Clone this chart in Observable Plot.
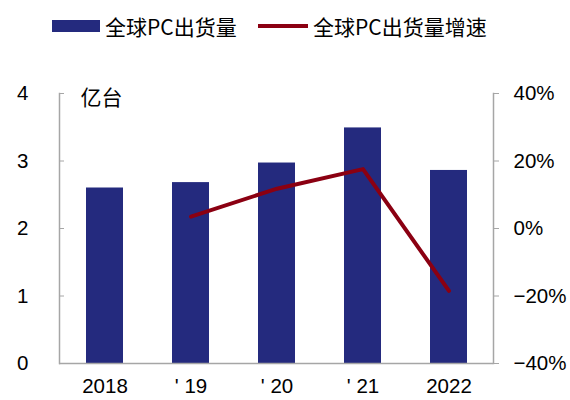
<!DOCTYPE html>
<html><head><meta charset="utf-8">
<script src="https://cdn.jsdelivr.net/npm/d3@7"></script>
<script src="https://cdn.jsdelivr.net/npm/@observablehq/plot@0.6"></script>
<style>
body{margin:0;background:#fff;width:570px;height:400px;overflow:hidden}
#legend{position:relative;height:55px;font-family:"Noto Sans CJK SC";font-size:21px;color:#000}
.item{position:absolute;top:0;height:52px;display:flex;align-items:center;white-space:nowrap}
.sw-bar{width:48px;height:12px;margin-right:5px}
.sw-line{width:50px;height:3.5px;margin-right:5px}
#chart svg{display:block}
</style></head>
<body>
<div id="legend"></div>
<div id="chart"></div>
<script>
const years = ["2018", "' 19", "' 20", "' 21", "2022"];
const shipments = [2.6, 2.68, 2.97, 3.49, 2.86];
const growth = [null, 3.5, 11.8, 17.6, -18.5];
const leftTicks = [0, 1, 2, 3, 4];
const rightTicks = [-40, -20, 0, 20, 40];
const unitLabel = "亿台";
const seriesNames = ["全球PC出货量", "全球PC出货量增速"];
const colors = ["#242a7e", "#8b0012"];

const toLeft = g => (g + 40) / 20;
const fromLeft = v => v * 20 - 40;
const fmtPct = p => (p < 0 ? "\u2212" + Math.abs(p) : String(p)) + "%";

const data = years.map((y, i) => ({year: y, v: shipments[i], g: growth[i]}));
const lineData = data.filter(d => d.g != null);

// legend
const legend = document.getElementById("legend");
const legPos = [52, 258];
seriesNames.forEach((name, i) => {
  const it = document.createElement("div");
  it.className = "item";
  it.style.left = legPos[i] + "px";
  const sw = document.createElement("div");
  sw.className = i === 0 ? "sw-bar" : "sw-line";
  sw.style.background = colors[i];
  const tx = document.createElement("span");
  tx.textContent = name;
  it.appendChild(sw); it.appendChild(tx);
  legend.appendChild(it);
});

const gray = "#a6a6a6";
const chart = Plot.plot({
  width: 570, height: 345,
  marginLeft: 59, marginRight: 77, marginTop: 38, marginBottom: 37,
  style: {fontFamily: "'Liberation Sans', Arial, sans-serif", fontSize: "20.5px", color: "#000", background: "#fff"},
  x: {domain: years, paddingInner: 0.57, paddingOuter: 0.285, label: null, axis: null},
  y: {domain: [0, 4], label: null, axis: null},
  marks: [
    Plot.barY(data, {x: "year", y: "v", fill: colors[0]}),
    Plot.ruleY([0], {stroke: gray, strokeWidth: 1.5}),
    Plot.frame({anchor: "left", stroke: gray, strokeWidth: 1.5}),
    Plot.frame({anchor: "right", stroke: gray, strokeWidth: 1.5}),
    Plot.line(lineData, {x: "year", y: d => toLeft(d.g), stroke: colors[1], strokeWidth: 4}),
    Plot.axisY(leftTicks, {anchor: "left", tickSize: 5, dx: 5, tickFormat: () => "", stroke: gray, label: null}),
    Plot.axisY(leftTicks, {anchor: "left", tickSize: 0, tickPadding: 31, fill: "#000", tickFormat: d => String(d), label: null}),
    Plot.axisY(rightTicks.map(toLeft), {anchor: "right", tickSize: 5, tickPadding: 15, stroke: gray, fill: "#000", tickFormat: d => fmtPct(fromLeft(d)), label: null}),
    Plot.axisX({tickSize: 0, tickPadding: 15, fill: "#000", label: null}),
    Plot.text([unitLabel], {frameAnchor: "top-left", dx: 21, dy: 4.5, lineAnchor: "middle", textAnchor: "start", fontFamily: "'Noto Sans CJK SC'", fontSize: 21, fill: "#000"})
  ]
});
document.getElementById("chart").appendChild(chart);
</script>
</body></html>
